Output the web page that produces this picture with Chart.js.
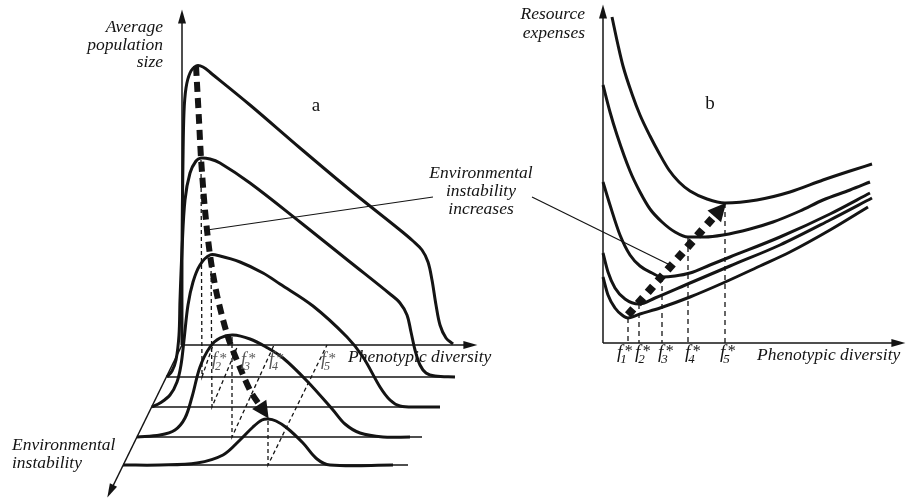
<!DOCTYPE html>
<html>
<head>
<meta charset="utf-8">
<script src="https://cdn.jsdelivr.net/npm/chart.js@4.4.0/dist/chart.umd.min.js"></script>
<style>
  html, body { margin: 0; padding: 0; background: #fff; }
  canvas { display: block; }
</style>
</head>
<body>
<canvas id="myChart" width="907" height="501"></canvas>
<script>
// ---- panel a (perspective sketch, picture units: x right, y down) ----
const axisUpA = [[182,345],[182,18]];
const axisDiagA = [[182,345],[111,490]];
const levelA0 = [[182,345],[469,345]];
const levelA1 = [[167,377],[453,377]];
const levelA2 = [[152,407],[440,407]];
const levelA3 = [[137,437],[422,437]];
const levelA4 = [[123,465],[408,465]];

const curveA1 = [[182,345],[182,250],[183,160],[184,112],[186,88],[190,73],[196,66],[203,67],[212,74],[250,105],[300,148],[350,190],[400,230],[413,241],[422,250],[428,262],[432,280],[436,305],[440,325],[446,338],[453,344]];
const curveA2 = [[167,377],[172,371],[176,360],[179,335],[180,300],[182,250],[185,200],[190,173],[196,161],[201,158],[210,159],[220,163],[250,183],[300,222],[350,262],[390,294],[400,303],[407,315],[411,332],[415,350],[420,365],[426,373],[435,376],[455,377]];
const curveA3 = [[152,407],[160,403],[170,395],[177,382],[181,365],[184,340],[188,305],[193,282],[200,265],[210,255],[220,256],[240,262],[263,273],[280,284],[313,306],[347,337],[363,357],[380,387],[390,400],[400,406],[420,407],[440,407]];
const curveA4 = [[137,437],[160,435],[175,430],[185,418],[192,397],[200,367],[210,347],[220,338],[233,335],[250,339],[266,347],[283,358],[307,381],[333,410],[345,424],[360,433],[383,437],[410,437]];
const curveA5 = [[123,465],[160,465],[197,463],[223,455],[240,440],[253,427],[262,420],[268,419],[276,421],[287,428],[303,443],[317,459],[330,465],[393,465]];

const trendA = [[196,66],[199,120],[201,158],[205,210],[210,255],[217,295],[228,337],[241,370],[251,392],[263,410]];
const fLineA2 = [[201,160],[202,377],[213,345]];
const fLineA3 = [[211,257],[212,407],[238,345]];
const fLineA4 = [[232,337],[232,437],[274,345]];
const fLineA5 = [[268,421],[268,465],[327,345]];
const fLabelA = [[212,365,'2'],[241,365,'3'],[269,365,'4'],[321,365,'5']];

const noteLeft = [[207,230],[433,197]];
const noteRight = [[532,197],[668,264]];

// ---- panel b (phenotypic diversity vs resource expenses, origin at axes corner) ----
const axisUpB = [[0,0],[0,330]];
const axisRightB = [[0,0],[294,0]];
const costB1 = [[9,326],[15,298],[20,277],[29,249],[37,228],[47,207],[56,190],[66,173],[76,161],[87,152],[104,144],[122,140],[154,143],[187,151],[220,163],[247,172],[269,179]];
const costB2 = [[0,258],[7,231],[14,208],[27,172],[37,151],[47,134],[59,121],[72,111],[85,106],[102,106],[120,108],[147,114],[170,121],[197,132],[220,143],[247,153],[267,161]];
const costB3 = [[0,161],[7,138],[17,108],[27,88],[37,77],[49,70],[59,66],[72,67],[87,70],[107,78],[127,86],[177,106],[227,129],[267,150]];
const costB4 = [[0,90],[5,71],[12,55],[22,44],[36,39],[52,45],[87,60],[127,77],[177,98],[227,123],[269,145]];
const costB5 = [[0,66],[5,48],[12,35],[19,28],[25,25],[37,29],[57,35],[87,46],[120,60],[157,77],[187,91],[227,113],[265,136]];
const fStarB = [25, 36, 59, 85, 122];
const fMinB = [25, 39, 66, 105, 140];
const fLabelB = [14, 32, 55, 82, 117];
const trendB = [[25,28],[116,132]];

const ink = '#141414';

function line(data, opts) {
  return Object.assign({
    data: data,
    showLine: true,
    pointRadius: 0,
    borderColor: ink,
    borderWidth: 3,
    tension: 0.35,
    fill: false,
    clip: false,
    xAxisID: 'xA',
    yAxisID: 'yA'
  }, opts || {});
}

const datasets = [];
const thin = { borderWidth: 1.5, tension: 0 };
datasets.push(line(axisUpA, Object.assign({ head: [14, 8] }, thin)));
datasets.push(line(axisDiagA, Object.assign({ head: [14, 8] }, thin)));
datasets.push(line(levelA0, Object.assign({ head: [14, 8] }, thin)));
[levelA1, levelA2, levelA3, levelA4].forEach(l => datasets.push(line(l, thin)));
[fLineA2, fLineA3, fLineA4, fLineA5].forEach(l => datasets.push(line(l, { borderWidth: 1.3, tension: 0, borderDash: [4, 3] })));
[curveA1, curveA2, curveA3, curveA4, curveA5].forEach(c => datasets.push(line(c)));
datasets.push(line(trendA, { borderWidth: 6, borderDash: [10, 6], tension: 0.3, head: [17, 17] }));
datasets.push(line(noteLeft, { borderWidth: 1.2, tension: 0 }));
datasets.push(line(noteRight, { borderWidth: 1.2, tension: 0 }));

const onB = { xAxisID: 'xB', yAxisID: 'yB' };
datasets.push(line(axisUpB, Object.assign({ head: [14, 8] }, thin, onB)));
datasets.push(line(axisRightB, Object.assign({ head: [14, 8] }, thin, onB)));
fStarB.forEach((x, i) => datasets.push(line([[x, fMinB[i]], [x, 0]], Object.assign({ borderWidth: 1.3, tension: 0, borderDash: [5, 4] }, onB))));
[costB1, costB2, costB3, costB4, costB5].forEach(c => datasets.push(line(c, Object.assign({ cubicInterpolationMode: 'monotone' }, onB))));
datasets.push(line(trendB, Object.assign({ borderWidth: 8, borderDash: [8, 7], tension: 0, head: [18, 18] }, onB)));

const serif = '"Liberation Serif", "Times New Roman", serif';
const textsA = [
  ['Average', 163, 27, 'right'], ['population', 163, 45, 'right'], ['size', 163, 62, 'right'],
  ['Environmental', 12, 445, 'left'], ['instability', 12, 463, 'left'],
  ['Phenotypic diversity', 348, 357, 'left'],
  ['Environmental', 481, 173, 'center'], ['instability', 481, 191, 'center'], ['increases', 481, 209, 'center'],
  ['Resource', 585, 14, 'right'], ['expenses', 585, 33, 'right'],
  ['Phenotypic diversity', 757, 355, 'left']
];

function drawFStar(ctx, x, y, n, size, color) {
  ctx.fillStyle = color;
  ctx.textAlign = 'left';
  ctx.textBaseline = 'alphabetic';
  ctx.font = 'italic ' + size + 'px ' + serif;
  ctx.fillText('f', x, y);
  const w = ctx.measureText('f').width;
  ctx.font = Math.round(size * 0.85) + 'px ' + serif;
  ctx.fillText('*', x + w + 2.5, y - size * 0.12);
  ctx.font = 'italic ' + Math.round(size * 0.68) + 'px ' + serif;
  ctx.fillText(n, x + w * 0.6, y + size * 0.28);
}

const decorPlugin = {
  id: 'decor',
  afterDatasetsDraw(chart) {
    const ctx = chart.ctx;
    // arrow heads
    chart.data.datasets.forEach((ds, i) => {
      if (!ds.head) return;
      const pts = chart.getDatasetMeta(i).data;
      const a = pts[pts.length - 2], b = pts[pts.length - 1];
      const ang = Math.atan2(b.y - a.y, b.x - a.x);
      const len = ds.head[0], half = ds.head[1] / 2;
      const tx = b.x + Math.cos(ang) * len * 0.6, ty = b.y + Math.sin(ang) * len * 0.6;
      const bx = tx - Math.cos(ang) * len, by = ty - Math.sin(ang) * len;
      ctx.save();
      ctx.fillStyle = ink;
      ctx.beginPath();
      ctx.moveTo(tx, ty);
      ctx.lineTo(bx - Math.sin(ang) * half, by + Math.cos(ang) * half);
      ctx.lineTo(bx + Math.sin(ang) * half, by - Math.cos(ang) * half);
      ctx.closePath();
      ctx.fill();
      ctx.restore();
    });

    const xA = chart.scales.xA, yA = chart.scales.yA, xB = chart.scales.xB, yB = chart.scales.yB;
    ctx.save();
    ctx.fillStyle = ink;
    ctx.textBaseline = 'middle';
    ctx.font = 'italic 17.5px ' + serif;
    textsA.forEach(t => {
      ctx.textAlign = t[3];
      ctx.fillText(t[0], xA.getPixelForValue(t[1]), yA.getPixelForValue(t[2]));
    });
    ctx.font = '19px ' + serif;
    ctx.textAlign = 'center';
    ctx.fillText('a', xA.getPixelForValue(316), yA.getPixelForValue(106));
    ctx.fillText('b', xA.getPixelForValue(710), yA.getPixelForValue(104));

    fLabelA.forEach(f => drawFStar(ctx, xA.getPixelForValue(f[0]), yA.getPixelForValue(f[1]), f[2], 18, '#555'));
    fLabelB.forEach((x, i) => drawFStar(ctx, xB.getPixelForValue(x), yB.getPixelForValue(-15), String(i + 1), 19, ink));
    ctx.restore();
  }
};

const ctx = document.getElementById('myChart');
const myChart = new Chart(ctx, {
  type: 'scatter',
  data: { datasets: datasets },
  options: {
    responsive: false,
    animation: false,
    devicePixelRatio: 1,
    layout: { padding: 0 },
    plugins: { legend: { display: false }, tooltip: { enabled: false } },
    scales: {
      xA: { type: 'linear', min: 0, max: 907, display: false },
      yA: { type: 'linear', min: 0, max: 501, reverse: true, display: false },
      xB: { type: 'linear', min: -603, max: 304, display: false },
      yB: { type: 'linear', min: -158, max: 343, display: false }
    }
  },
  plugins: [decorPlugin]
});
</script>
</body>
</html>
